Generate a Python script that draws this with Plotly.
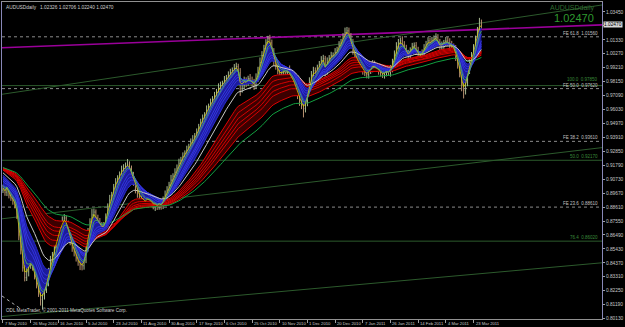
import plotly.graph_objects as go
import pandas as pd

# ---------------- data ----------------
pre_close = [0.9160, 0.9185, 0.9210, 0.9195, 0.9230, 0.9250, 0.9220, 0.9240, 0.9265, 0.9280,
             0.9255, 0.9230, 0.9210, 0.9240, 0.9260, 0.9245, 0.9220, 0.9190, 0.9170, 0.9200,
             0.9215, 0.9185, 0.9150, 0.9120, 0.9140, 0.9100, 0.9060, 0.9080, 0.9030, 0.8990]

close = [
    0.9005, 0.8975, 0.9020, 0.8952, 0.8929, 0.8914, 0.8876, 0.8801, 0.8649, 0.8536,
    0.8400, 0.8324, 0.8369, 0.8422, 0.8445, 0.8400, 0.8339, 0.8278, 0.8218, 0.8157,
    0.8188, 0.8233, 0.8294, 0.8369, 0.8445, 0.8498, 0.8551, 0.8611, 0.8672, 0.8717,
    0.8748, 0.8778, 0.8733, 0.8672, 0.8611, 0.8551, 0.8521, 0.8475, 0.8445, 0.8422,
    0.8415, 0.8460, 0.8551, 0.8672, 0.8748, 0.8801, 0.8823, 0.8778, 0.8748, 0.8725,
    0.8702, 0.8717, 0.8778, 0.8861, 0.8914, 0.8952, 0.9005, 0.9051, 0.9081, 0.9104,
    0.9141, 0.9157, 0.9172, 0.9187, 0.9157, 0.9104, 0.9051, 0.9005, 0.8967, 0.8945,
    0.8922, 0.8914, 0.8899, 0.8929, 0.8914, 0.8899, 0.8876, 0.8884, 0.8869, 0.8892,
    0.8876, 0.8914, 0.8952, 0.8990, 0.9028, 0.9066, 0.9096, 0.9126, 0.9157, 0.9194,
    0.9217, 0.9247, 0.9270, 0.9293, 0.9315, 0.9353, 0.9368, 0.9399, 0.9429, 0.9459,
    0.9505, 0.9535, 0.9558, 0.9596, 0.9626, 0.9656, 0.9679, 0.9702, 0.9732, 0.9762,
    0.9785, 0.9800, 0.9823, 0.9838, 0.9853, 0.9883, 0.9898, 0.9914, 0.9929, 0.9883,
    0.9762, 0.9792, 0.9823, 0.9808, 0.9838, 0.9823, 0.9808, 0.9792, 0.9838, 0.9883,
    0.9959, 1.0012, 1.0065, 1.0110, 1.0141, 1.0110, 1.0050, 0.9974, 0.9936, 0.9898,
    0.9868, 0.9883, 0.9898, 0.9883, 0.9898, 0.9868, 0.9838, 0.9808, 0.9762, 0.9717,
    0.9671, 0.9641, 0.9611, 0.9656, 0.9732, 0.9808, 0.9861, 0.9898, 0.9883, 0.9914,
    0.9944, 0.9974, 0.9989, 0.9898, 0.9959, 0.9989, 1.0012, 1.0012, 1.0035, 1.0050,
    1.0088, 1.0110, 1.0156, 1.0186, 1.0201, 1.0163, 1.0110, 1.0050, 1.0004, 0.9974,
    0.9951, 0.9929, 0.9898, 0.9883, 0.9868, 0.9898, 0.9914, 0.9944, 0.9929, 0.9914,
    0.9898, 0.9883, 0.9868, 0.9883, 0.9898, 0.9883, 0.9914, 0.9959, 1.0012, 1.0080,
    1.0110, 1.0125, 1.0095, 1.0065, 1.0035, 1.0012, 1.0050, 1.0080, 1.0088, 1.0050,
    1.0020, 1.0004, 1.0035, 1.0065, 1.0095, 1.0125, 1.0110, 1.0125, 1.0141, 1.0148,
    1.0110, 1.0080, 1.0095, 1.0110, 1.0125, 1.0110, 1.0095, 1.0080, 1.0065, 1.0012,
    0.9959, 0.9883, 0.9792, 0.9747, 0.9808, 0.9898, 0.9959, 1.0012, 1.0065, 1.0125,
    1.0201, 1.0262, 1.0247]

wick_up_pips = [
    25, 30, 18, 22, 35, 20, 15, 28, 20, 30, 40, 22, 35, 30, 25, 18, 20, 26, 30, 22,
    35, 40, 28, 30, 45, 22, 30, 25, 35, 28, 42, 30, 20, 25, 18, 30, 22, 28, 20, 24,
    18, 35, 40, 30, 28, 45, 26, 20, 25, 30, 22, 30, 35, 28, 40, 25, 32, 30, 22, 28,
    35, 30, 28, 40, 22, 20, 25, 18, 22, 30, 25, 40, 22, 30, 26, 35, 20, 28, 25, 32,
    30, 28, 35, 30, 25, 40, 22, 30, 28, 35, 26, 30, 22, 35, 28, 30, 40, 25, 30, 35,
    28, 30, 25, 38, 22, 30, 26, 35, 28, 40, 30, 22, 35, 28, 40, 30, 25, 35, 30, 22,
    35, 28, 30, 25, 22, 35, 30, 28, 40, 45, 40, 35, 30, 28, 22, 30, 25, 20, 28, 30,
    22, 35, 28, 30, 25, 40, 22, 30, 25, 20, 25, 22, 30, 38, 45, 40, 35, 30, 25, 30,
    28, 35, 30, 22, 40, 28, 30, 25, 35, 30, 35, 30, 28, 40, 30, 25, 22, 30, 28, 35,
    30, 25, 35, 28, 22, 30, 26, 35, 30, 28, 25, 30, 28, 35, 30, 22, 28, 30, 40, 35,
    30, 25, 35, 28, 30, 22, 26, 30, 25, 28, 30, 28, 25, 35, 30, 28, 22, 30, 25, 35,
    28, 30, 25, 22, 30, 28, 35, 30, 25, 28, 30, 35, 40, 30, 25, 35, 30, 28, 35, 40,
    30, 38, 25]

wick_dn_pips = [
    22, 28, 30, 25, 20, 35, 25, 30, 40, 35, 30, 28, 25, 35, 30, 22, 28, 35, 40, 45,
    75, 30, 25, 35, 28, 30, 22, 25, 30, 28, 30, 25, 35, 28, 40, 30, 35, 28, 30, 40,
    35, 30, 25, 28, 22, 30, 25, 35, 28, 30, 40, 30, 25, 22, 30, 28, 35, 25, 30, 22,
    25, 30, 28, 22, 35, 30, 28, 40, 35, 30, 38, 30, 28, 35, 30, 40, 32, 45, 30, 28,
    35, 30, 25, 28, 22, 30, 26, 25, 28, 22, 30, 25, 28, 22, 30, 25, 28, 22, 30, 25,
    28, 22, 30, 25, 28, 22, 30, 25, 28, 22, 25, 30, 22, 28, 25, 30, 28, 25, 22, 30,
    55, 30, 28, 35, 25, 30, 28, 40, 30, 25, 22, 25, 28, 30, 25, 30, 35, 40, 30, 28,
    30, 25, 28, 35, 30, 28, 35, 40, 30, 35, 40, 35, 68, 30, 28, 25, 30, 22, 28, 25,
    28, 25, 22, 45, 30, 25, 28, 22, 25, 28, 25, 22, 28, 25, 30, 35, 28, 30, 35, 30,
    35, 28, 30, 25, 28, 30, 25, 28, 30, 25, 30, 28, 25, 30, 28, 25, 30, 28, 25, 22,
    25, 28, 30, 25, 28, 30, 25, 22, 28, 30, 25, 28, 30, 25, 22, 28, 25, 28, 30, 25,
    30, 25, 28, 30, 25, 22, 28, 30, 35, 40, 45, 35, 50, 60, 30, 28, 25, 22, 28, 25,
    22, 25, 28]

date_labels = ["7 May 2010", "26 May 2010", "16 Jun 2010", "5 Jul 2010", "23 Jul 2010",
               "11 Aug 2010", "30 Aug 2010", "17 Sep 2010", "6 Oct 2010", "25 Oct 2010",
               "10 Nov 2010", "1 Dec 2010", "20 Dec 2010", "7 Jan 2011", "26 Jan 2011",
               "14 Feb 2011", "4 Mar 2011", "23 Mar 2011"]
date_label_bars = [0, 14, 28, 42, 56, 70, 84, 98, 112, 126, 140, 154, 168, 182, 196,
                   210, 224, 238]

ytick_vals = [1.0345, 1.0239, 1.0133, 1.0027, 0.9921, 0.9815, 0.9709, 0.9603, 0.9497,
              0.9391, 0.9285, 0.9179, 0.9073, 0.8967, 0.8861, 0.8755, 0.8649, 0.8543,
              0.8437, 0.8331, 0.8225, 0.8119, 0.8013]
ytick_text = ["%.5f" % v for v in ytick_vals]
ytick_text[1] = ""  # hidden behind the current-price box in the reference

fib_levels = [1.0156, 0.9785, 0.9762, 0.9361, 0.9217, 0.8861, 0.8602]
fib_text = ["FE 61.8  1.01560", "100.0  0.97850", "FE 50.0  0.97620", "FE 38.2  0.93610",
            "50.0  0.92170", "FE 23.6  0.88610", "76.4  0.86020"]
fib_kind = ["fe", "ret", "fe", "fe", "ret", "fe", "ret"]

# trend lines: (bar0, price0, bar1, price1)
trend_bar0 = [-0.5, -0.5, -0.5]
trend_p0 = [0.97190, 0.87720, 0.80287]
trend_bar1 = [303, 303, 303]
trend_p1 = [1.03980, 0.93133, 0.84375]

zig_bar = [-0.5, 9]
zig_price = [0.8185, 0.8087]

channel_bar = [-0.5, 303]
channel_price = [1.00733, 1.02466]

symbol = "AUDUSDdaily"
last_ohlc = ["1.02326", "1.02706", "1.02240", "1.02470"]
last_price = 1.02470

# ---------------- derived series ----------------
n = len(close)
idx = list(range(n))
full = pd.Series(pre_close + close)
def ema(p):
    return list(full.ewm(span=p, adjust=False).mean().iloc[len(pre_close):])

opens = [pre_close[-1]] + close[:-1]
highs = [max(o, c) + w / 10000 for o, c, w in zip(opens, close, wick_up_pips)]
lows = [min(o, c) - w / 10000 for o, c, w in zip(opens, close, wick_dn_pips)]

fig = go.Figure()

# red ribbon (long group)
red_periods = [30, 35, 40, 45, 50, 60]
fig.add_trace(go.Scatter(x=idx, y=ema(30), mode="lines", line=dict(color="#e00000", width=1)))
fig.add_trace(go.Scatter(x=idx, y=ema(60), mode="lines", line=dict(color="#e00000", width=1),
                         fill="tonexty", fillcolor="#3c0000"))
for p in red_periods[1:-1]:
    fig.add_trace(go.Scatter(x=idx, y=ema(p), mode="lines", line=dict(color="#d40000", width=1)))

# green slow line
fig.add_trace(go.Scatter(x=idx, y=ema(72), mode="lines", line=dict(color="#12a040", width=1)))

# blue band (short group)
fig.add_trace(go.Scatter(x=idx, y=ema(3), mode="lines", line=dict(color="#2828d0", width=1)))
fig.add_trace(go.Scatter(x=idx, y=ema(15), mode="lines", line=dict(color="#2828d0", width=1),
                         fill="tonexty", fillcolor="#1c1c9c"))
for p in [5, 8, 10, 12]:
    fig.add_trace(go.Scatter(x=idx, y=ema(p), mode="lines", line=dict(color="#3434e0", width=1)))

# white line
fig.add_trace(go.Scatter(x=idx, y=ema(20), mode="lines", line=dict(color="#c8c8c8", width=1)))

# price bars
fig.add_trace(go.Ohlc(x=idx, open=opens, high=highs, low=lows, close=close,
                      increasing=dict(line=dict(color="#a8b890", width=1)),
                      decreasing=dict(line=dict(color="#b89070", width=1)),
                      tickwidth=0.3, hoverinfo="skip"))

# fast coloured lines
fig.add_trace(go.Scatter(x=idx, y=ema(2), mode="lines", line=dict(color="#d2d200", width=0.8)))
fig.add_trace(go.Scatter(x=idx, y=ema(4), mode="lines", line=dict(color="#50c050", width=0.8)))

shapes = []
for b0, p0, b1, p1 in zip(trend_bar0, trend_p0, trend_bar1, trend_p1):
    shapes.append(dict(type="line", xref="x", yref="y", x0=b0, y0=p0, x1=b1, y1=p1,
                       line=dict(color="#2c5a2c", width=1), layer="below"))
shapes.append(dict(type="line", xref="x", yref="y", x0=zig_bar[0], y0=zig_price[0],
                   x1=zig_bar[1], y1=zig_price[1],
                   line=dict(color="#b0b0b0", width=1, dash="dot"), layer="below"))
shapes.append(dict(type="line", xref="x", yref="y", x0=channel_bar[0], y0=channel_price[0],
                   x1=channel_bar[1], y1=channel_price[1],
                   line=dict(color="#9a009a", width=1.6), layer="below"))
annotations = []
for k, (lv, tx, kd) in enumerate(zip(fib_levels, fib_text, fib_kind)):
    if kd == "fe":
        shapes.append(dict(type="line", xref="paper", yref="y", x0=0, x1=1, y0=lv, y1=lv,
                           line=dict(color="#8c8c8c", width=1, dash="dot"), layer="below"))
        col = "#c0c0c0"
    else:
        shapes.append(dict(type="line", xref="paper", yref="y", x0=0, x1=1, y0=lv, y1=lv,
                           line=dict(color="#2c5a2c", width=1), layer="below"))
        col = "#3a8a3a"
    ys = 2 if k == 1 else -1
    annotations.append(dict(xref="paper", yref="y", x=0.997, y=lv, xanchor="right",
                            yanchor="bottom", text=tx, showarrow=False,
                            font=dict(size=4.5, color=col, family="Arial"), yshift=ys))

for b, t in zip(date_label_bars, date_labels):
    annotations.append(dict(xref="x", yref="paper", x=b, y=0, xanchor="left", yanchor="top",
                            text=t, showarrow=False, xshift=0, yshift=0,
                            font=dict(size=4.2, color="#c8c8c8", family="Arial")))

annotations.append(dict(xref="paper", yref="paper", x=0.003, y=0.997, xanchor="left",
                        yanchor="top", showarrow=False,
                        text=symbol + "   " + " ".join(last_ohlc),
                        font=dict(size=4.8, color="#d0d0d0", family="Arial")))
annotations.append(dict(xref="paper", yref="paper", x=0.003, y=0.012, xanchor="left",
                        yanchor="bottom", showarrow=False,
                        text="ODL MetaTrader, \u00a9 2001-2011 MetaQuotes Software Corp.",
                        font=dict(size=4.6, color="#d0d0d0", family="Arial")))
annotations.append(dict(xref="paper", yref="paper", x=0.99, y=1.0, xanchor="right",
                        yanchor="top", showarrow=False, text=symbol,
                        font=dict(size=7, color="#2f6a2f", family="Arial")))
annotations.append(dict(xref="paper", yref="y", x=0.99, y=last_price, xanchor="right",
                        yanchor="bottom", showarrow=False, text="%.5f" % last_price,
                        yshift=-1, font=dict(size=11, color="#2f9a2f", family="Arial")))
annotations.append(dict(xref="paper", yref="y", x=1.0, y=last_price, xanchor="left",
                        yanchor="middle", showarrow=False, text="%.5f" % last_price,
                        bgcolor="#d8d8d8", borderpad=0, xshift=1,
                        font=dict(size=4.8, color="#000000", family="Arial")))

fig.update_layout(
    width=625, height=327,
    margin=dict(l=2, r=16, t=1, b=8, pad=0),
    paper_bgcolor="#000000", plot_bgcolor="#000000",
    showlegend=False,
    shapes=shapes, annotations=annotations,
    xaxis=dict(range=[-0.5, 303], showgrid=False, zeroline=False, rangeslider=dict(visible=False),
               tickvals=date_label_bars, ticks="outside", ticklen=3, tickcolor="#a0a0a0",
               showticklabels=False, showline=True, linecolor="#909090", linewidth=1,
               mirror=True),
    yaxis=dict(range=[0.8010, 1.04207], side="right", showgrid=False, zeroline=False,
               tickvals=ytick_vals, ticktext=ytick_text, ticks="outside", ticklen=2,
               tickcolor="#a0a0a0", tickfont=dict(size=4.8, color="#c8c8c8", family="Arial"),
               showline=True, linecolor="#8888b8", linewidth=1, mirror=True),
)

fig.write_html("out.html")
